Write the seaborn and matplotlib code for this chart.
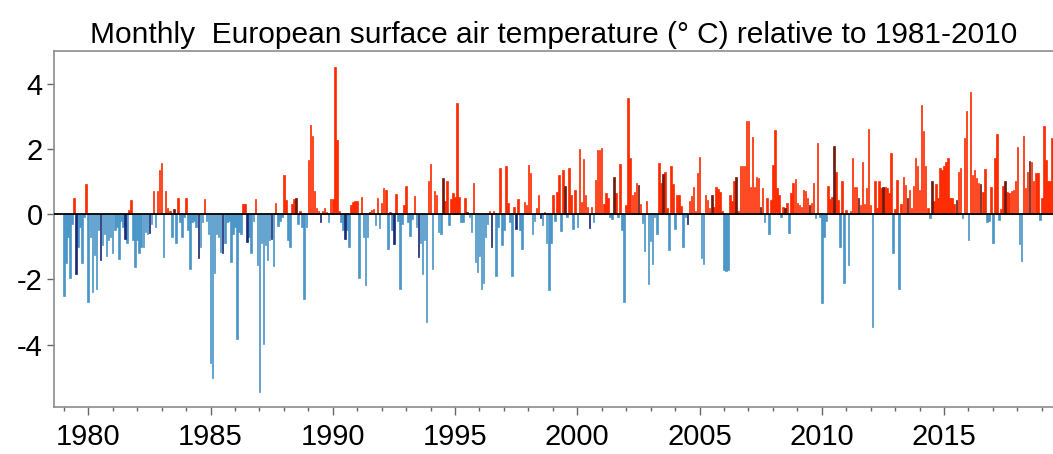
import numpy as np
import pandas as pd
import matplotlib.pyplot as plt
import seaborn as sns

# Monthly European surface air temperature anomalies (deg C, vs 1981-2010)
# Jan 1979 onwards, one row = one year
anom_1979_1988 = [
    -2.5, -1.5, -0.7, -1.95, -0.3, 0.5, -1.83, -1.0, -0.4, -1.5, -0.1, 0.92,      # 1979
    -2.7, -0.7, -2.4, -1.25, -2.3, -0.5, -1.4, -0.95, -0.6, -1.3, -0.8, -0.7,     # 1980
    -1.2, -0.5, -0.4, -1.37, -0.2, -0.4, -0.75, -0.9, 0.12, 0.43, -0.8, -1.62,    # 1981
    -0.8, -1.2, -1.0, -1.0, -0.55, -0.6, -0.58, -0.3, 0.72, -0.4, 0.72, 1.35,     # 1982
    1.56, -1.33, 0.7, 0.2, 0.1, -0.7, 0.15, -0.9, 0.48, -0.25, -0.7, -0.1,        # 1983
    0.48, -0.5, -1.67, -0.25, -0.2, -0.4, -1.36, -1.0, -0.25, 0.45, -0.2, -0.6,   # 1984
    -4.57, -5.03, -1.8, -0.6, -0.7, -1.15, -1.2, -0.9, -0.25, -0.2, -1.47, -0.6,  # 1985
    -0.4, -3.83, -0.55, -0.6, 0.3, 0.3, -0.85, -0.7, -1.2, -0.2, 0.45, -1.57,     # 1986
    -5.47, -0.9, -3.98, -0.95, -1.4, -0.8, -0.75, -1.6, 0.35, -0.35, -0.2, -0.1,  # 1987
    1.2, 0.43, -0.8, -1.0, 0.3, 0.45, 0.48, -0.3, 0.1, -0.4, -2.6, -0.4,          # 1988
]
anom_1989_1998 = [
    1.66, 2.74, 2.38, 0.7, 0.2, 0.1, -0.24, 0.1, 0.2, 0.05, -0.25, 0.45,          # 1989
    0.47, 4.5, 2.28, 0.08, -0.25, -0.5, -0.75, -0.5, -1.0, 0.28, 0.38, 0.4,       # 1990
    0.4, -1.95, 0.53, -0.7, -2.18, -0.7, 0.07, 0.14, 0.17, -0.34, 0.48, -0.44,    # 1991
    0.35, 0.8, 0.74, -1.06, 0.07, -0.5, -0.92, 0.63, -0.2, -2.3, -0.3, 0.28,      # 1992
    0.87, -0.25, -0.68, -0.15, 0.55, -0.4, -1.31, -0.9, -1.83, -0.8, -3.3, 1.0,   # 1993
    1.54, -1.67, 0.72, 0.58, -0.55, -0.6, 1.1, 0.4, 1.0, -0.34, 0.45, 0.66,       # 1994
    0.53, 3.4, 0.53, -0.24, -0.24, 0.5, 0.07, -0.1, -0.55, 0.94, -1.47, -1.77,    # 1995
    -1.3, -2.3, -2.1, -0.7, -0.3, 0.1, -1.0, 0.1, -1.9, -0.4, 1.4, -0.95,         # 1996
    -0.5, 1.46, 0.35, -0.24, -1.9, 0.22, -0.45, 0.45, -0.5, -1.06, 0.36, 0.27,    # 1997
    1.5, 1.25, -0.6, -0.2, 0.2, 0.58, -0.13, -0.34, 0.05, -0.9, -2.34, -0.9,      # 1998
]
anom_1999_2008 = [
    0.58, -0.2, 0.69, 1.2, -0.51, 1.35, 0.87, -0.1, 1.4, 0.6, -0.47, 0.74,        # 1999
    -0.4, 1.99, 0.36, 1.68, 0.58, 0.22, -0.44, 0.22, -0.24, 1.05, 1.97, 1.97,     # 2000
    2.02, 0.3, 0.64, 0.48, -0.1, -0.15, 1.15, 0.66, -0.1, 1.54, -0.5, -2.7,       # 2001
    0.28, 3.56, 1.71, 0.58, 0.69, 0.94, 0.9, 0.3, -0.27, -1.13, 0.4, -2.15,       # 2002
    -0.82, -1.54, -0.1, -0.6, 1.58, 0.94, 1.23, 1.3, 0.2, -1.1, 1.48, 0.92,       # 2003
    -0.46, 0.6, 0.6, 0.26, -1.0, -0.1, -0.29, 0.41, 0.56, 0.84, 0.1, 1.27,        # 2004
    1.76, -1.36, -1.52, 0.6, 0.43, 0.2, 0.58, 0.22, 0.82, 0.77, 0.69, 0.1,        # 2005
    -1.7, -1.75, -1.7, 0.6, 0.41, 1.0, 1.15, 0.1, 1.48, 1.46, 1.46, 2.84,         # 2006
    2.84, 0.84, 2.36, 0.84, 1.15, 1.1, 0.22, 0.79, -0.24, 0.48, -0.6, 0.43,       # 2007
    1.5, 2.58, 0.79, 0.58, -0.1, 0.22, 0.2, 0.33, -0.57, 0.64, 0.94, 1.07,        # 2008
]
anom_2009_2019 = [
    0.33, 0.28, 0.22, 0.74, 0.72, 0.5, 0.28, 0.33, 0.94, -0.13, 2.17, -0.1,       # 2009
    -2.73, -0.7, -0.2, 0.86, 0.45, 0.53, 2.09, 1.3, 0.43, -1.0, 1.0, -2.11,       # 2010
    0.12, -1.57, 0.1, 1.71, 0.84, 0.84, 0.48, 0.28, 1.59, 0.3, 0.79, 2.62,        # 2011
    0.28, -3.47, 1.0, 0.2, 1.0, 0.8, 0.84, 0.82, 0.79, 0.64, 1.87, -1.18,         # 2012
    0.17, 1.05, -2.29, 0.3, 1.15, 0.9, 0.48, 0.74, 0.2, 0.86, 1.71, 1.48,         # 2013
    0.74, 3.35, 2.56, 1.46, 0.2, -0.13, 1.0, 0.4, 0.92, 0.5, 1.4, 1.35,           # 2014
    1.48, 1.61, 1.71, 0.5, 0.48, 0.3, 0.43, 1.3, 1.4, -0.13, 2.33, 3.15,          # 2015
    -0.8, 3.73, 1.2, 1.35, 1.1, 0.94, 0.92, 0.69, 1.37, -0.24, -0.2, 0.82,        # 2016
    -0.9, 1.71, 2.46, -0.18, 0.17, 0.87, 1.0, 0.69, 0.64, 0.72, 0.74, 1.0,        # 2017
    2.05, -0.92, -1.44, 2.38, 0.79, 1.3, 1.64, 1.61, 1.0, 1.25, 1.25, -0.18,      # 2018
    0.5, 2.71, 1.66, 1.0, 1.0, 2.33,                                              # 2019
]

first_year = 1979
highlight_month = 7   # darker bars mark July of every year

colors = {"warm": "#ff2a00", "warm_hl": "#6e1a0e",
          "cold": "#4a96c8", "cold_hl": "#1b2a78"}

vals = anom_1979_1988 + anom_1989_1998 + anom_1999_2008 + anom_2009_2019
n = len(vals)
df = pd.DataFrame({"anom": vals})
df["year"] = first_year + np.arange(n) // 12
df["month"] = np.arange(n) % 12 + 1
df["t"] = df["year"] + (df["month"] - 1) / 12
df["kind"] = np.where(df["anom"] >= 0, "warm", "cold")
df.loc[df["month"] == highlight_month, "kind"] = df["kind"] + "_hl"

sns.set_style("ticks")
plt.rcParams["font.family"] = ["Liberation Sans", "DejaVu Sans"]
plt.rcParams["axes.unicode_minus"] = False

fig = plt.figure(figsize=(10.53, 4.54), dpi=100)
ax = fig.add_axes([0.0513, 0.104, 0.9487, 0.7835])

sns.barplot(data=df, x="t", y="anom", hue="kind", palette=colors,
            native_scale=True, dodge=False, width=0.75, errorbar=None,
            saturation=1, legend=False, ax=ax)
# thin bars: outline each one in its own colour so it doesn't fade out
for p in ax.patches:
    p.set_edgecolor(p.get_facecolor())
    p.set_linewidth(0.5)
ax.axhline(0, color="black", lw=1.3, zorder=3)

ax.set_xlim(1978.6, 2019.456)
ax.set_ylim(-5.91, 5.0)
ax.set_xticks(np.arange(1980, 2016, 5))
ax.set_xticklabels([str(y) for y in range(1980, 2016, 5)])
ax.set_xticks(np.arange(1979, 2020), minor=True)
ax.set_yticks([-4, -2, 0, 2, 4])
ax.set_yticklabels(["-4", "-2", "0", "2", "4"])
ax.set_xlabel("")
ax.set_ylabel("")

for side in ["top", "left", "bottom"]:
    ax.spines[side].set_color("0.55")
    ax.spines[side].set_linewidth(1.2)
ax.spines["right"].set_visible(False)

ax.tick_params(axis="both", which="both", direction="out", color="0.4",
               labelsize=21, labelcolor="black", width=1)
ax.tick_params(axis="x", which="major", length=6, pad=6)
ax.tick_params(axis="x", which="minor", length=3)
ax.tick_params(axis="y", which="major", length=5, pad=3)

ax.set_title("Monthly  European surface air temperature (\u00b0 C) relative to 1981-2010",
             fontsize=21.5, pad=6, color="black")

fig.savefig("out.png", dpi=100)
